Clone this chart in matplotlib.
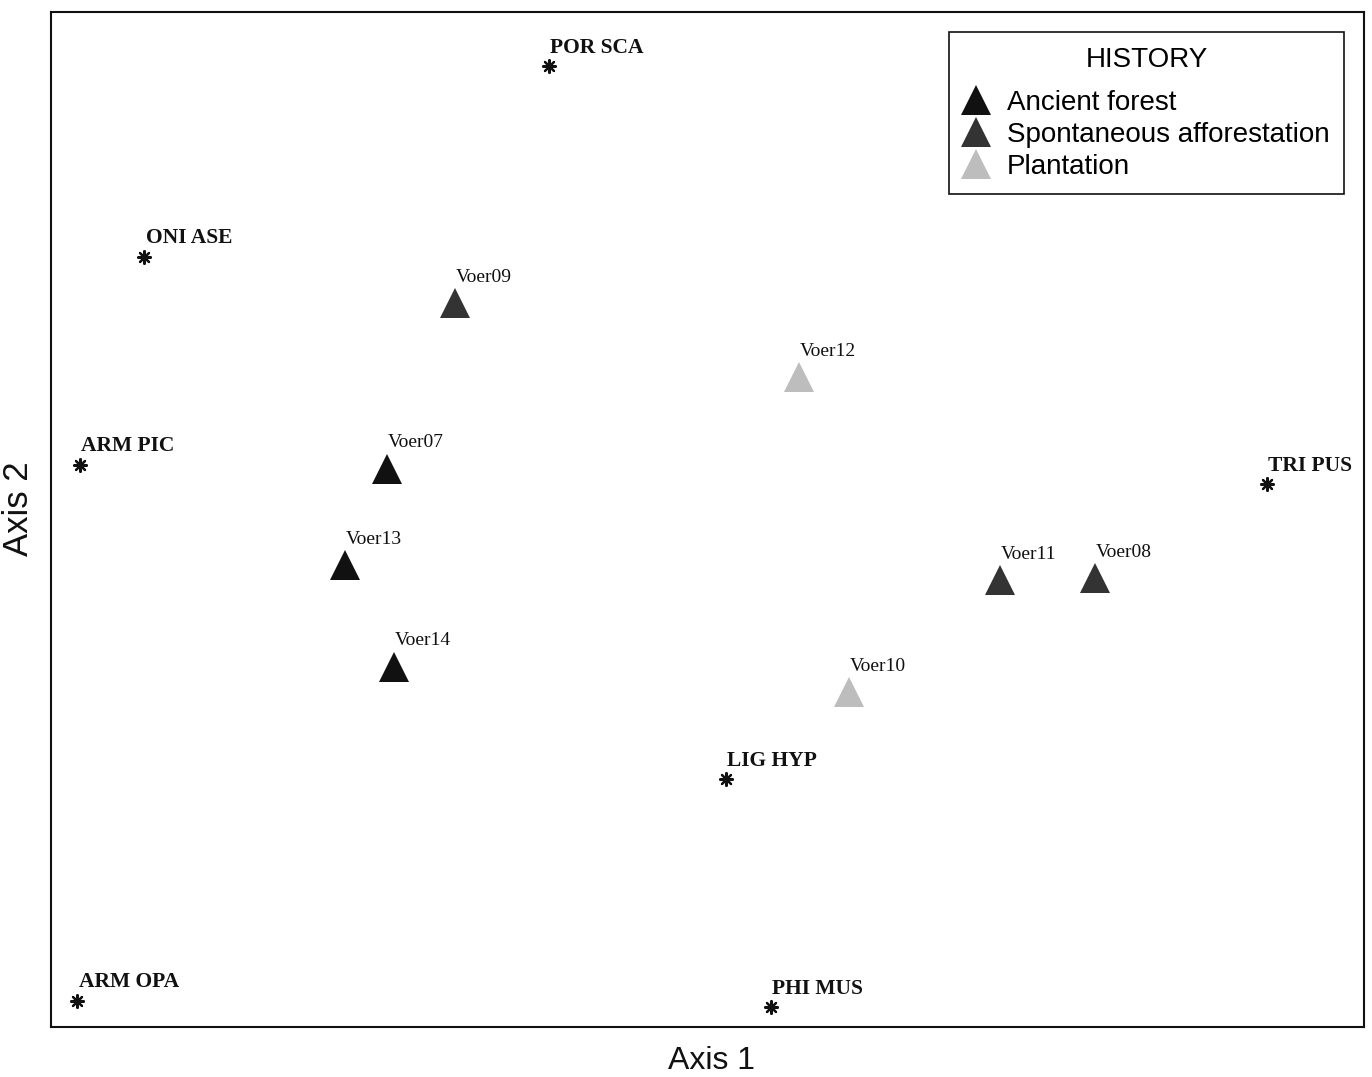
import matplotlib
matplotlib.use("Agg")
import matplotlib.pyplot as plt
from matplotlib.lines import Line2D

# ---- data (ordination scores, arbitrary units) ----
species = ["POR SCA", "ONI ASE", "ARM PIC", "TRI PUS", "LIG HYP", "ARM OPA", "PHI MUS"]
species_x = [37.9, 7.1, 2.2, 92.6, 51.4, 2.0, 54.8]
species_y = [94.7, 75.9, 55.4, 53.5, 24.4, 2.6, 2.0]

sites = ["Voer09", "Voer12", "Voer07", "Voer13", "Voer14", "Voer11", "Voer08", "Voer10"]
sites_x = [30.8, 57.0, 25.6, 22.4, 26.1, 72.3, 79.5, 60.8]
sites_y = [71.3, 64.0, 55.0, 45.5, 35.5, 44.0, 44.2, 33.0]
sites_history = ["Spontaneous afforestation", "Plantation", "Ancient forest", "Ancient forest",
                 "Ancient forest", "Spontaneous afforestation", "Spontaneous afforestation",
                 "Plantation"]

history_levels = ["Ancient forest", "Spontaneous afforestation", "Plantation"]
history_colors = {"Ancient forest": "#111111",
                  "Spontaneous afforestation": "#333333",
                  "Plantation": "#bdbdbd"}

# ---- figure ----
W, H = 1372, 1077
fig = plt.figure(figsize=(W / 100, H / 100), dpi=100)
ax = fig.add_axes([51 / W, 1 - 1027 / H, (1364 - 51) / W, (1027 - 12) / H])
ax.set_xlim(0, 100)
ax.set_ylim(0, 100)
ax.set_xticks([])
ax.set_yticks([])
for s in ax.spines.values():
    s.set_linewidth(1.5)
    s.set_color("#111111")

serif = ["Liberation Serif", "DejaVu Serif"]
sans = ["Liberation Sans", "DejaVu Sans"]

# species points
ax.scatter(species_x, species_y, marker=(8, 2, 0), s=85, color="#111111",
           linewidths=1.6, zorder=3)
for name, x, y in zip(species, species_x, species_y):
    ax.annotate(name, (x, y), xytext=(1, 9.5), textcoords="offset points",
                ha="left", va="baseline", fontsize=15.5, fontweight="bold",
                family=serif, color="#111111")

# site points
for name, x, y, h in zip(sites, sites_x, sites_y, sites_history):
    ax.plot([x], [y], marker="^", ms=21.6, color=history_colors[h],
            markeredgewidth=0, linestyle="none", zorder=3)
    ax.annotate(name, (x, y), xytext=(0.5, 15.5), textcoords="offset points",
                ha="left", va="baseline", fontsize=14, family=serif,
                color="#111111")

# legend
handles = [Line2D([], [], marker="^", ms=21.6, linestyle="none",
                  markeredgewidth=0, color=history_colors[h]) for h in history_levels]
leg = ax.legend(handles, history_levels, title="HISTORY",
                loc="upper right", bbox_to_anchor=(1344 / W, 1 - 32 / H),
                bbox_transform=fig.transFigure, borderaxespad=0,
                prop={"family": sans, "size": 20},
                title_fontproperties={"family": sans, "size": 20},
                fancybox=False, framealpha=1, edgecolor="#111111",
                borderpad=0.525, handlelength=0.9, handletextpad=0.65,
                labelspacing=0.21, handleheight=0.7)
leg.get_frame().set_linewidth(1.2)
leg._legend_box.sep = 12.5  # gap between title and entries (pixels)

# axis labels
fig.text(712 / W, 1 - 1061 / H, "Axis 1", ha="center", va="center",
         fontsize=23, family=sans, color="#111111")
fig.text(19 / W, 1 - 509 / H, "Axis 2", ha="center", va="center", rotation=90,
         fontsize=25, family=sans, color="#111111")

fig.savefig("out.png", dpi=100)
